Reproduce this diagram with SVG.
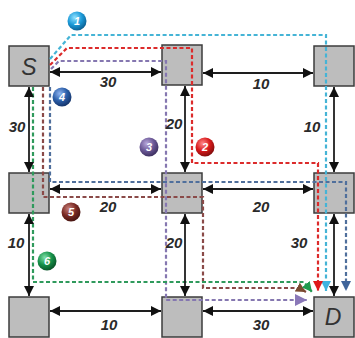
<svg xmlns="http://www.w3.org/2000/svg" width="355" height="338" viewBox="0 0 355 338">
  <style>
    .box { fill: #bdbdbd; stroke: #3c3c3c; stroke-width: 1.5; }
    .letter { font-family: "Liberation Sans", Arial, sans-serif; font-style: italic; font-size: 23px; fill: #333; text-anchor: middle; }
    .w { font-family: "Liberation Sans", Arial, sans-serif; font-style: italic; font-weight: bold; font-size: 15px; fill: #2a2a2a; text-anchor: middle; }
    .link { fill: none; stroke: #1e1e1e; stroke-width: 1.8; marker-start: url(#ab); marker-end: url(#ab); }
    .route { fill: none; stroke-width: 2.2; stroke-dasharray: 4 2.5; }
    .num { font-family: "Liberation Sans", Arial, sans-serif; font-style: italic; font-weight: bold; font-size: 11px; fill: #fff; text-anchor: middle; }
  </style>
  <defs>
    <marker id="ab" viewBox="0 0 10 10" refX="10" refY="5" markerWidth="10" markerHeight="10" markerUnits="userSpaceOnUse" orient="auto-start-reverse">
      <path d="M0,0 L10,5 L0,10 z" fill="#111"/>
    </marker>
    <marker id="mc" viewBox="0 0 10 10" refX="10" refY="5" markerWidth="10" markerHeight="10" markerUnits="userSpaceOnUse" orient="auto"><path d="M0,0 L10,5 L0,10 z" fill="#3fb3e0"/></marker>
    <marker id="mr" viewBox="0 0 10 10" refX="10" refY="5" markerWidth="10" markerHeight="10" markerUnits="userSpaceOnUse" orient="auto"><path d="M0,0 L10,5 L0,10 z" fill="#e0191b"/></marker>
    <marker id="mp" viewBox="0 0 10 10" refX="10" refY="5" markerWidth="12" markerHeight="12" markerUnits="userSpaceOnUse" orient="auto"><path d="M0,0 L10,5 L0,10 z" fill="#8a78b8"/></marker>
    <marker id="mb" viewBox="0 0 10 10" refX="10" refY="5" markerWidth="10" markerHeight="10" markerUnits="userSpaceOnUse" orient="auto"><path d="M0,0 L10,5 L0,10 z" fill="#3f649a"/></marker>
    <marker id="mm" viewBox="0 0 10 10" refX="10" refY="5" markerWidth="10" markerHeight="10" markerUnits="userSpaceOnUse" orient="auto"><path d="M0,0 L10,5 L0,10 z" fill="#7a4a30"/></marker>
    <marker id="mg" viewBox="0 0 10 10" refX="10" refY="5" markerWidth="10" markerHeight="10" markerUnits="userSpaceOnUse" orient="auto"><path d="M0,0 L10,5 L0,10 z" fill="#1f9a4e"/></marker>
    <radialGradient id="g1" cx="0.38" cy="0.32" r="0.7"><stop offset="0" stop-color="#8fe0ff"/><stop offset="0.55" stop-color="#1c9ad8"/><stop offset="1" stop-color="#0b5f92"/></radialGradient>
    <radialGradient id="g2" cx="0.38" cy="0.32" r="0.7"><stop offset="0" stop-color="#ff8a8a"/><stop offset="0.55" stop-color="#d8191b"/><stop offset="1" stop-color="#820c0c"/></radialGradient>
    <radialGradient id="g3" cx="0.38" cy="0.32" r="0.7"><stop offset="0" stop-color="#b8a8dc"/><stop offset="0.55" stop-color="#6b5896"/><stop offset="1" stop-color="#3d3060"/></radialGradient>
    <radialGradient id="g4" cx="0.38" cy="0.32" r="0.7"><stop offset="0" stop-color="#8fb4f0"/><stop offset="0.55" stop-color="#2b5ea8"/><stop offset="1" stop-color="#15346a"/></radialGradient>
    <radialGradient id="g5" cx="0.38" cy="0.32" r="0.7"><stop offset="0" stop-color="#c8807a"/><stop offset="0.55" stop-color="#7a2a24"/><stop offset="1" stop-color="#461410"/></radialGradient>
    <radialGradient id="g6" cx="0.38" cy="0.32" r="0.7"><stop offset="0" stop-color="#80e0a8"/><stop offset="0.55" stop-color="#16914a"/><stop offset="1" stop-color="#0a5328"/></radialGradient>
  </defs>

  <!-- nodes -->
  <g id="node-S"><rect class="box" x="9" y="46" width="40" height="40"/><text class="letter" x="29" y="75">S</text></g>
  <g id="node-A"><rect class="box" x="162" y="45" width="40" height="40"/></g>
  <g id="node-B"><rect class="box" x="314" y="46" width="40" height="40"/></g>
  <g id="node-C"><rect class="box" x="9" y="173" width="40" height="40"/></g>
  <g id="node-E"><rect class="box" x="162" y="173" width="40" height="40"/></g>
  <g id="node-F"><rect class="box" x="314" y="173" width="40" height="40"/></g>
  <g id="node-G"><rect class="box" x="9" y="297" width="40" height="40"/></g>
  <g id="node-H"><rect class="box" x="162" y="297" width="40" height="40"/></g>
  <g id="node-D"><rect class="box" x="314" y="297" width="40" height="40"/><text class="letter" x="333" y="325">D</text></g>

  <!-- routes -->
  <g id="routes">
    <path class="route" stroke="#45b4d6" d="M50,59 L71,35 H326 V291" marker-end="url(#mc)"/>
    <path class="route" stroke="#dc2b2b" d="M50,65 L67,48 H192 V163 H318 V291" marker-end="url(#mr)"/>
    <path class="route" stroke="#8577b0" d="M51,69 L59,61 H166 V300 H307" marker-end="url(#mp)"/>
    <path class="route" stroke="#4f6f9c" d="M50,87 V182 H346 V291" marker-end="url(#mb)"/>
    <path class="route" stroke="#8a4a48" d="M43,87 V197 H203 V288 H299 L306,292" marker-end="url(#mm)"/>
    <path class="route" stroke="#2f9a5c" d="M33,87 V282 H304 L312,292" marker-end="url(#mg)"/>
  </g>

  <!-- links with weights -->
  <g id="links">
    <line class="link" x1="50" y1="72" x2="161" y2="72"/>
    <line class="link" x1="203" y1="73" x2="313" y2="73"/>
    <line class="link" x1="29" y1="87" x2="29" y2="172"/>
    <line class="link" x1="185" y1="86" x2="185" y2="172"/>
    <line class="link" x1="334" y1="87" x2="334" y2="172"/>
    <line class="link" x1="50" y1="189" x2="161" y2="189"/>
    <line class="link" x1="203" y1="189" x2="313" y2="189"/>
    <line class="link" x1="29" y1="214" x2="29" y2="296"/>
    <line class="link" x1="185" y1="214" x2="185" y2="296"/>
    <line class="link" x1="334" y1="214" x2="334" y2="296"/>
    <line class="link" x1="50" y1="311" x2="161" y2="311"/>
    <line class="link" x1="203" y1="311" x2="313" y2="311"/>
    <text class="w" x="108" y="87">30</text>
    <text class="w" x="261" y="89">10</text>
    <text class="w" x="17" y="132">30</text>
    <text class="w" x="174" y="129">20</text>
    <text class="w" x="312" y="132">10</text>
    <text class="w" x="108" y="212">20</text>
    <text class="w" x="261" y="212">20</text>
    <text class="w" x="16" y="248">10</text>
    <text class="w" x="174" y="248">20</text>
    <text class="w" x="299" y="248">30</text>
    <text class="w" x="109" y="330">10</text>
    <text class="w" x="261" y="330">30</text>
  </g>

  <!-- route numbers -->
  <g id="tags">
    <circle cx="77" cy="21" r="9.5" fill="url(#g1)"/><text class="num" x="77" y="25">1</text>
    <circle cx="205" cy="147" r="9.5" fill="url(#g2)"/><text class="num" x="205" y="151">2</text>
    <circle cx="149" cy="147" r="9.5" fill="url(#g3)"/><text class="num" x="149" y="151">3</text>
    <circle cx="62" cy="97" r="9.5" fill="url(#g4)"/><text class="num" x="62" y="101">4</text>
    <circle cx="71" cy="212" r="9.5" fill="url(#g5)"/><text class="num" x="71" y="216">5</text>
    <circle cx="47" cy="261" r="9.5" fill="url(#g6)"/><text class="num" x="47" y="265">6</text>
  </g>
</svg>
